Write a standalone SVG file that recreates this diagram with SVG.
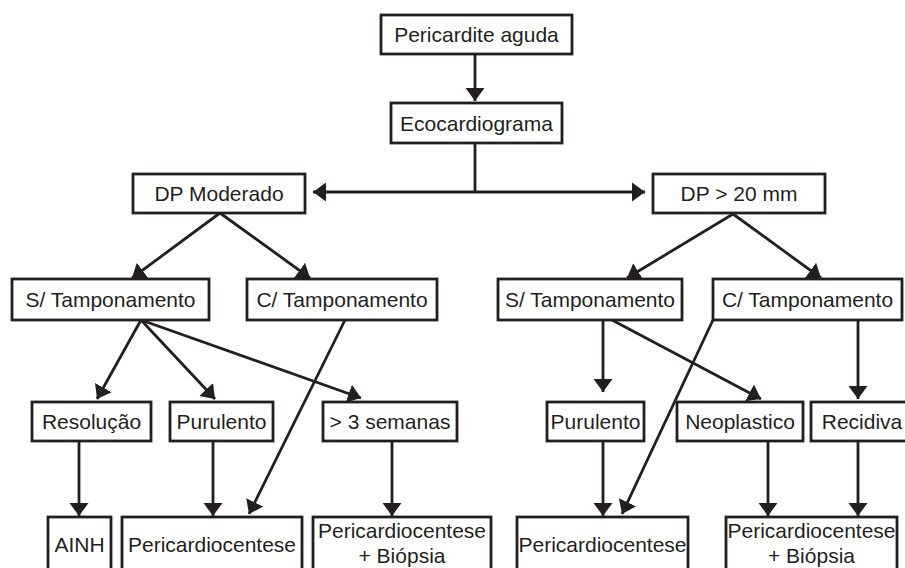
<svg xmlns="http://www.w3.org/2000/svg" width="905" height="568" viewBox="0 0 905 568">
<defs>
<style>
.box rect{fill:#fff;stroke:#231f20;stroke-width:2.8}
.box text{font-family:"Liberation Sans",Arial,sans-serif;font-size:21px;fill:#231f20;text-anchor:middle}
#connectors line{stroke:#231f20;stroke-width:2.8;fill:none}
.a{marker-end:url(#ah)}
</style>
<marker id="ah" markerWidth="14" markerHeight="20" refX="13" refY="10" orient="auto" markerUnits="userSpaceOnUse">
<path d="M0,0.5 L13,10 L0,19.5 z" fill="#231f20"/>
</marker>
<marker id="ahs" markerWidth="14" markerHeight="20" refX="0" refY="10" orient="auto" markerUnits="userSpaceOnUse">
<path d="M13,0.5 L0,10 L13,19.5 z" fill="#231f20"/>
</marker>
</defs>
<rect width="905" height="568" fill="#fff"/>
<g id="connectors">
<line class="a" x1="475" y1="54" x2="475" y2="101"/>
<line x1="475" y1="143" x2="475" y2="192"/>
<line x1="313" y1="192" x2="645" y2="192" marker-start="url(#ahs)" marker-end="url(#ah)"/>
<line class="a" x1="220" y1="213" x2="132" y2="278"/>
<line class="a" x1="220" y1="213" x2="310" y2="278"/>
<line class="a" x1="733" y1="214" x2="627" y2="278"/>
<line class="a" x1="733" y1="214" x2="821" y2="278"/>
<line class="a" x1="141" y1="320" x2="97" y2="399"/>
<line class="a" x1="141" y1="320" x2="215" y2="399"/>
<line class="a" x1="141" y1="320" x2="361" y2="398"/>
<line class="a" x1="345" y1="320" x2="249" y2="514"/>
<line class="a" x1="79" y1="441" x2="79" y2="516"/>
<line class="a" x1="213" y1="441" x2="213" y2="516"/>
<line class="a" x1="392" y1="441" x2="392" y2="516"/>
<line class="a" x1="603" y1="320" x2="603" y2="392"/>
<line class="a" x1="612" y1="320" x2="761" y2="399"/>
<line class="a" x1="713" y1="320" x2="622" y2="514"/>
<line class="a" x1="858" y1="320" x2="858" y2="399"/>
<line class="a" x1="603" y1="441" x2="603" y2="516"/>
<line class="a" x1="768" y1="441" x2="768" y2="516"/>
<line class="a" x1="858" y1="441" x2="858" y2="516"/>
</g>
<g id="n1" class="box"><rect x="381" y="15" width="191" height="39"/><text x="476.5" y="42">Pericardite aguda</text></g>
<g id="n2" class="box"><rect x="391" y="103" width="171" height="40"/><text x="476.5" y="131">Ecocardiograma</text></g>
<g id="n3" class="box"><rect x="133" y="174" width="172" height="39"/><text x="219" y="201">DP Moderado</text></g>
<g id="n4" class="box"><rect x="653" y="174" width="172" height="39"/><text x="739" y="201">DP &gt; 20 mm</text></g>
<g id="n5" class="box"><rect x="12" y="279" width="197" height="41"/><text x="110.5" y="307">S/ Tamponamento</text></g>
<g id="n6" class="box"><rect x="247" y="279" width="190" height="41"/><text x="342" y="307">C/ Tamponamento</text></g>
<g id="n7" class="box"><rect x="498" y="279" width="184" height="41"/><text x="590" y="307">S/ Tamponamento</text></g>
<g id="n8" class="box"><rect x="713" y="279" width="189" height="41"/><text x="807.5" y="307">C/ Tamponamento</text></g>
<g id="n9" class="box"><rect x="32" y="402" width="119" height="39"/><text x="91.5" y="429">Resolução</text></g>
<g id="n10" class="box"><rect x="170" y="402" width="103" height="39"/><text x="221.5" y="429">Purulento</text></g>
<g id="n11" class="box"><rect x="323" y="402" width="134" height="39"/><text x="390" y="429">&gt; 3 semanas</text></g>
<g id="n12" class="box"><rect x="547" y="402" width="97" height="39"/><text x="595.5" y="429">Purulento</text></g>
<g id="n13" class="box"><rect x="677" y="402" width="126" height="39"/><text x="740" y="429">Neoplastico</text></g>
<g id="n14" class="box"><rect x="811" y="402" width="104" height="39"/><text x="862" y="429">Recidiva</text></g>
<g id="n15" class="box"><rect x="48" y="517" width="63" height="62"/><text x="79.5" y="552">AINH</text></g>
<g id="n16" class="box"><rect x="122" y="517" width="180" height="62"/><text x="212" y="552">Pericardiocentese</text></g>
<g id="n17" class="box"><rect x="313" y="517" width="178" height="62"/><text x="402" y="538">Pericardiocentese</text><text x="402" y="563">+ Biópsia</text></g>
<g id="n18" class="box"><rect x="517" y="517" width="171" height="62"/><text x="602.5" y="552">Pericardiocentese</text></g>
<g id="n19" class="box"><rect x="726" y="517" width="171" height="62"/><text x="811.5" y="538">Pericardiocentese</text><text x="811.5" y="563">+ Biópsia</text></g>
</svg>
